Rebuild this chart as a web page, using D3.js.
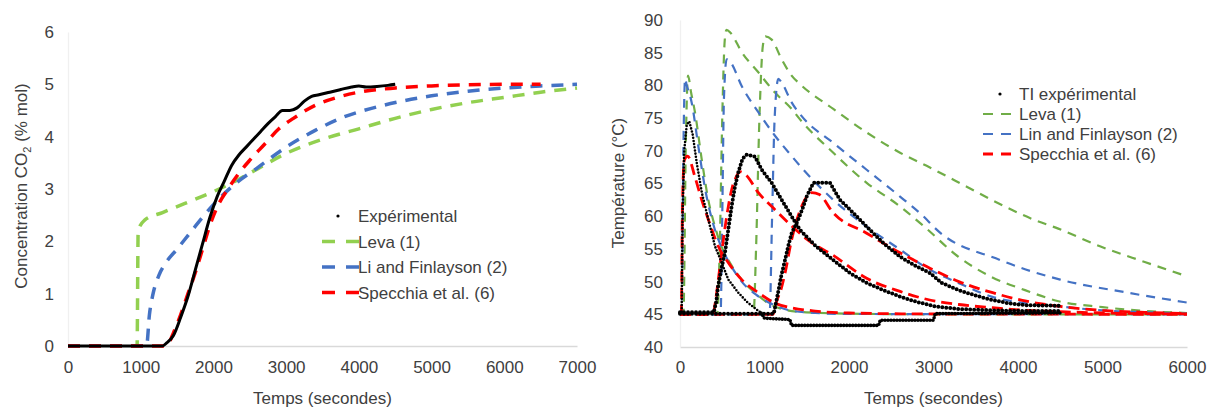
<!DOCTYPE html>
<html>
<head>
<meta charset="utf-8">
<script src="https://cdn.jsdelivr.net/npm/d3@7"></script>
<style>
  html, body { margin: 0; padding: 0; background: #fff; }
  text { font-family: "Liberation Sans", Arial, sans-serif; }
</style>
</head>
<body>
<svg id="chart" width="1211" height="410"></svg>
<script>
// ---------- Left chart data: CO2 concentration (% mol) vs time (s) ----------
const co2XTicks = [0, 1000, 2000, 3000, 4000, 5000, 6000, 7000];
const co2YTicks = [0, 1, 2, 3, 4, 5, 6];
const co2Experimental = [[0,0],[1300,0],[1350,0.05],[1450,0.2],[1550,0.55],[1650,0.95],[1750,1.45],[1850,1.95],[1950,2.45],[2050,2.85],[2150,3.15],[2250,3.45],[2350,3.65],[2450,3.8],[2550,3.95],[2650,4.1],[2750,4.25],[2850,4.38],[2950,4.5],[3050,4.5],[3150,4.55],[3250,4.68],[3350,4.77],[3450,4.8],[3600,4.85],[3750,4.9],[3900,4.95],[4000,4.97],[4100,4.95],[4250,4.96],[4400,4.98],[4500,5.0]];
const co2Leva = [[0,0],[950,0],[965,2.2],[1050,2.4],[1300,2.55],[1600,2.72],[2000,2.95],[2300,3.15],[2600,3.38],[3000,3.68],[3500,3.95],[4000,4.15],[4500,4.35],[5000,4.52],[5500,4.65],[6000,4.75],[6500,4.85],[7000,4.93]];
const co2Li = [[0,0],[1080,0],[1120,0.6],[1170,1.0],[1250,1.35],[1350,1.6],[1500,1.85],[1700,2.2],[2000,2.7],[2300,3.1],[2600,3.4],[3000,3.8],[3400,4.12],[3800,4.38],[4200,4.55],[4600,4.68],[5000,4.78],[5500,4.87],[6000,4.93],[6500,4.97],[7000,5.0]];
const co2Specchia = [[0,0],[1350,0],[1450,0.25],[1550,0.6],[1650,1.0],[1750,1.4],[1850,1.85],[1950,2.3],[2050,2.65],[2200,3.0],[2350,3.3],[2500,3.55],[2700,3.85],[2900,4.15],[3100,4.35],[3400,4.6],[3700,4.75],[4000,4.85],[4500,4.93],[5000,4.97],[5500,4.99],[6000,5.0],[6500,5.0]];
const co2Legend = ["Expérimental", "Leva (1)", "Li and Finlayson (2)", "Specchia et al. (6)"];

// ---------- Right chart data: temperature (°C) vs time (s) ----------
const tXTicks = [0, 1000, 2000, 3000, 4000, 5000, 6000];
const tYTicks = [40, 45, 50, 55, 60, 65, 70, 75, 80, 85, 90];
const tiExpA = [[0,45.2],[20,45.2],[30,60],[50,70],[80,74],[110,74.5],[150,72.5],[200,68],[260,63.5],[335,59.5],[414,55.4],[493,52.9],[572,50.3],[690,48.3],[800,46.8],[900,45.8],[960,45.2]];
const tiExpATail = [[960,45.2],[1000,44.4],[1300,44.2],[1320,43.3],[2350,43.3],[2370,44.1],[3000,44.1],[3020,45.1],[4500,45.2]];
const tiExpB = [[0,45.3],[400,45.3],[430,47],[450,49.2],[490,52],[532,54.4],[572,58],[611,61.5],[650,64.5],[690,66.7],[740,68.8],[789,69.4],[888,69.1],[967,67.1],[1085,65.1],[1203,62.5],[1320,60],[1420,57.9],[1617,55.3],[1814,53.3],[2012,51.3],[2209,49.8],[2406,48.7],[2604,47.7],[2801,46.9],[3018,46.2],[3300,45.8],[3700,45.6],[4100,45.5],[4500,45.5]];
const tiExpC = [[0,45.1],[1110,45.1],[1160,48.3],[1200,51],[1243,53.3],[1282,55.5],[1321,57.4],[1400,59.5],[1460,61.5],[1499,63],[1578,65.1],[1775,65.1],[1893,62.5],[2051,60.5],[2209,58.4],[2406,55.9],[2604,53.8],[2801,52.3],[2959,51.3],[3097,49.8],[3294,48.7],[3491,47.9],[3688,47.2],[3885,46.7],[4083,46.4],[4500,46.3]];
const levaA = [[0,45],[40,45],[70,72],[95,81.5],[130,79],[177,75.9],[257,68.7],[335,62.5],[414,58.4],[493,55.3],[572,53.3],[730,50.3],[888,48.3],[1045,46.7],[1243,45.7],[1500,45.3],[2000,45.1],[3000,45],[6000,45]];
const levaB = [[0,45],[440,45],[470,55],[500,75],[530,87],[550,88.5],[600,88],[730,85.1],[927,82],[1124,78.9],[1321,76.4],[1420,74.8],[1814,69.7],[2209,65.1],[2604,61.5],[2900,58.3],[3294,53.8],[3688,50.7],[4083,48.7],[4480,47],[5000,46.1],[5500,45.5],[6000,45.2]];
const levaC = [[0,45],[870,45],[900,55],[940,75],[980,86],[1010,87.5],[1085,87],[1203,84],[1321,81.5],[1420,80.2],[1814,76.4],[2209,72.8],[2604,69.7],[2919,67.7],[3393,64.5],[3688,62.5],[4181,59.5],[4477,58.1],[4970,55.4],[5500,53],[6000,50.8]];
const linA = [[0,45],[20,45],[40,70],[60,81],[80,80],[138,77.4],[217,70.7],[300,64],[400,58.5],[500,55],[600,52.5],[730,50],[900,48],[1100,46.5],[1300,45.6],[1600,45.2],[2000,45.05],[6000,45]];
const linB = [[0,45],[480,45],[500,60],[520,78],[552,84],[600,83.5],[730,79.9],[927,75.9],[1124,72.3],[1321,69.2],[1440,67.4],[1814,62.5],[2209,58.4],[2604,54.9],[2919,52.1],[3294,49.8],[3688,47.7],[4083,46.7],[4477,46.2],[5000,45.6],[5500,45.3],[6000,45.1]];
const linC = [[0,45],[1060,45],[1090,60],[1120,75],[1164,81],[1200,80.5],[1321,77.4],[1440,75.3],[1814,71.2],[2209,67.1],[2604,63],[2919,59.5],[3000,58.4],[3787,53.3],[4500,50.3],[5300,48.3],[6000,46.8]];
const specA = [[0,45],[15,45],[30,62],[50,68.5],[90,69.2],[177,66],[257,62.5],[335,59.5],[453,55.4],[572,52.9],[730,50.3],[927,48.3],[1124,46.7],[1321,46],[1600,45.5],[2000,45.2],[3000,45.05],[6000,45]];
const specB = [[0,45],[390,45],[420,47],[460,51],[493,54.4],[530,58],[572,61.5],[620,64.5],[651,65.6],[710,66.8],[780,66.3],[927,63.6],[1124,61],[1321,58.5],[1500,56.5],[1814,54],[2209,50.5],[2604,48.5],[2919,47.3],[3300,46.5],[3700,46],[4100,45.6],[4500,45.4],[5000,45.2],[6000,45.05]];
const specC = [[0,45],[1100,45],[1130,46.5],[1200,49],[1243,51.3],[1321,56.4],[1440,61.5],[1500,63],[1560,63.6],[1650,63.3],[1814,60.5],[2209,57.4],[2604,54.4],[2919,52.3],[3300,50],[3700,48.3],[4100,47],[4500,46.2],[5000,45.6],[5500,45.3],[6000,45.1]];
const tLegend = ["TI expérimental", "Leva (1)", "Lin and Finlayson (2)", "Specchia et al. (6)"];

// ---------- Drawing ----------
const svg = d3.select("#chart");
svg.append("rect").attr("width", 1211).attr("height", 410).attr("fill", "#fff");
const TXT = "#404040";
const FS = 17;

function styleAxis(g, domainColor) {
  g.select(".domain").attr("stroke", domainColor).attr("stroke-width", 1.3);
  g.selectAll(".tick line").remove();
  g.selectAll(".tick text").attr("fill", TXT).attr("font-size", FS)
    .attr("font-family", '"Liberation Sans", Arial, sans-serif');
}

// ===== Left chart =====
const xL = d3.scaleLinear().domain([0, 7000]).range([68, 577]);
const yL = d3.scaleLinear().domain([0, 6]).range([346, 32]);

svg.append("g").attr("transform", `translate(0,${yL(0)})`)
  .call(d3.axisBottom(xL).tickValues(co2XTicks).tickSize(0).tickPadding(15).tickFormat(d3.format("d")))
  .call(g => styleAxis(g, "#d9d9d9"));
svg.append("g").attr("transform", `translate(${xL(0)},0)`)
  .call(d3.axisLeft(yL).tickValues(co2YTicks).tickSize(0).tickPadding(14).tickFormat(d3.format("d")))
  .call(g => styleAxis(g, "#f0f0f0"));

const lineL = d3.line().x(d => xL(d[0])).y(d => yL(d[1])).curve(d3.curveMonotoneX);
const leftSeries = [
  {data: co2Leva, color: "#92D050"},
  {data: co2Li, color: "#4472C4"},
  {data: co2Specchia, color: "#FF0000"}
];
leftSeries.forEach(s => {
  svg.append("path").attr("d", lineL(s.data)).attr("fill", "none")
    .attr("stroke", s.color).attr("stroke-width", 3.5).attr("stroke-dasharray", "12,9");
});
svg.append("path").attr("d", lineL(co2Experimental)).attr("fill", "none")
  .attr("stroke", "#000").attr("stroke-width", 3);

// left axis titles
svg.append("text").attr("x", xL(3500)).attr("y", 404).attr("text-anchor", "middle")
  .attr("font-size", FS).attr("fill", TXT).text("Temps (secondes)");
const yt = svg.append("text").attr("transform", "translate(27,186) rotate(-90)")
  .attr("text-anchor", "middle").attr("font-size", FS).attr("fill", TXT);
yt.append("tspan").text("Concentration CO");
yt.append("tspan").attr("font-size", 11).attr("dy", 4).text("2");
yt.append("tspan").attr("dy", -4).text(" (% mol)");

// left legend
const legL = svg.append("g");
const legLColors = ["#000", "#92D050", "#4472C4", "#FF0000"];
co2Legend.forEach((name, i) => {
  const y = 216 + i * 25.5;
  if (i === 0) {
    legL.append("circle").attr("cx", 338).attr("cy", y).attr("r", 1.6).attr("fill", "#000");
  } else {
    legL.append("line").attr("x1", 322).attr("x2", 359).attr("y1", y).attr("y2", y)
      .attr("stroke", legLColors[i]).attr("stroke-width", 3.5).attr("stroke-dasharray", "13,11");
  }
  legL.append("text").attr("x", 358).attr("y", y + 6).attr("font-size", FS).attr("fill", TXT).text(name);
});

// ===== Right chart =====
const xR = d3.scaleLinear().domain([0, 6000]).range([680, 1187]);
const yR = d3.scaleLinear().domain([40, 90]).range([347, 20]);

svg.append("g").attr("transform", `translate(0,${yR(40)})`)
  .call(d3.axisBottom(xR).tickValues(tXTicks).tickSize(0).tickPadding(14).tickFormat(d3.format("d")))
  .call(g => styleAxis(g, "#d9d9d9"));
svg.append("g").attr("transform", `translate(${xR(0)},0)`)
  .call(d3.axisLeft(yR).tickValues(tYTicks).tickSize(0).tickPadding(17).tickFormat(d3.format("d")))
  .call(g => styleAxis(g, "#f0f0f0"));

const lineR = d3.line().x(d => xR(d[0])).y(d => yR(d[1])).curve(d3.curveMonotoneX);
const lineRexp = d3.line().x(d => xR(d[0])).y(d => yR(d[1]));
const rightModels = [
  {sets: [levaA, levaB, levaC], color: "#70AD47", w: 2.2, dash: "9,7"},
  {sets: [linA, linB, linC], color: "#4472C4", w: 2.2, dash: "9,7"},
  {sets: [specA, specB, specC], color: "#FF0000", w: 2.8, dash: "11,6"}
];
rightModels.forEach(m => {
  m.sets.forEach(d => {
    svg.append("path").attr("d", lineR(d)).attr("fill", "none")
      .attr("stroke", m.color).attr("stroke-width", m.w).attr("stroke-dasharray", m.dash);
  });
});
[[tiExpA, 2.6, "0,3.2"], [tiExpATail, 3.6, "0,3"], [tiExpB, 4, "0,4"], [tiExpC, 4, "0,4"]].forEach(([d, w, dash]) => {
  svg.append("path").attr("d", lineRexp(d)).attr("fill", "none")
    .attr("stroke", "#000").attr("stroke-width", w).attr("stroke-linecap", "round")
    .attr("stroke-dasharray", dash);
});

// right axis titles
svg.append("text").attr("x", xR(3000)).attr("y", 404).attr("text-anchor", "middle")
  .attr("font-size", FS).attr("fill", TXT).text("Temps (secondes)");
svg.append("text").attr("transform", "translate(624,183) rotate(-90)")
  .attr("text-anchor", "middle").attr("font-size", FS).attr("fill", TXT).text("Température (°C)");

// right legend
const legR = svg.append("g");
const legRColors = ["#000", "#70AD47", "#4472C4", "#FF0000"];
tLegend.forEach((name, i) => {
  const y = 94 + i * 20;
  if (i === 0) {
    legR.append("circle").attr("cx", 1000).attr("cy", y).attr("r", 1.6).attr("fill", "#000");
  } else {
    legR.append("line").attr("x1", 983).attr("x2", 1011).attr("y1", y).attr("y2", y)
      .attr("stroke", legRColors[i]).attr("stroke-width", i === 3 ? 2.8 : 2.2).attr("stroke-dasharray", "10,8");
  }
  legR.append("text").attr("x", 1019).attr("y", y + 6).attr("font-size", FS).attr("fill", TXT).text(name);
});
</script>
</body>
</html>
